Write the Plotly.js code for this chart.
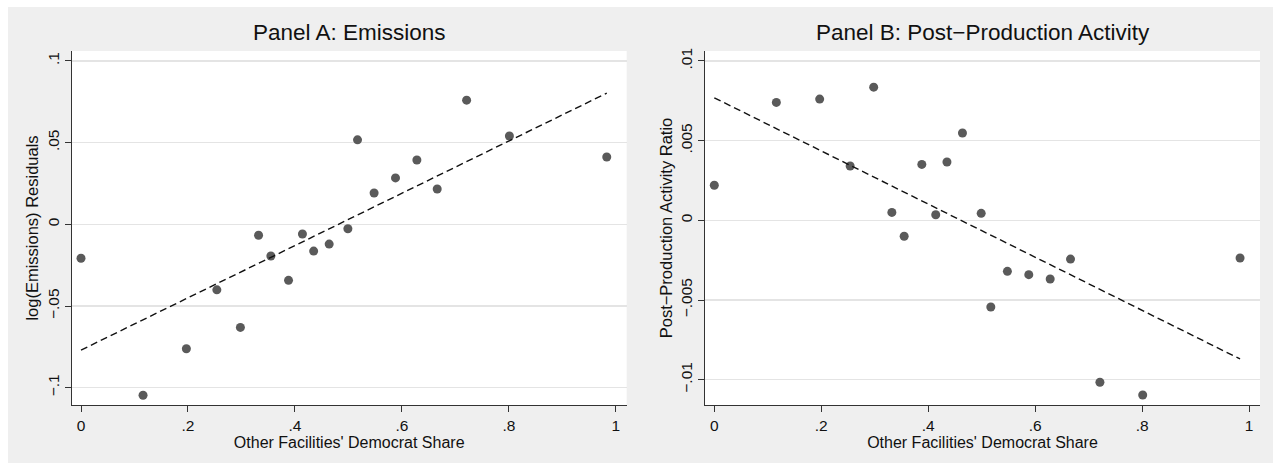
<!DOCTYPE html>
<html>
<head>
<meta charset="utf-8">
<script src="https://cdn.plot.ly/plotly-3.0.1.min.js"></script>
<style>
  html, body { margin: 0; padding: 0; background: #ffffff; }
  #chart { width: 1273px; height: 463px; }
</style>
</head>
<body>
<div id="chart"></div>
<script>
// ---- Data ----
const shareX = [0, 0.116, 0.197, 0.254, 0.298, 0.332, 0.355, 0.388, 0.414, 0.435,
                0.464, 0.499, 0.517, 0.548, 0.588, 0.628, 0.666, 0.721, 0.801, 0.983];
const emissionsResid = [-0.0208, -0.1046, -0.0762, -0.0401, -0.0631, -0.0067, -0.0194, -0.0343, -0.0059, -0.0164,
                        -0.0121, -0.0027, 0.0517, 0.0192, 0.0284, 0.0394, 0.0216, 0.0760, 0.0541, 0.0412];
const postProdRatio = [0.0022, 0.0074, 0.00761, 0.00341, 0.00836, 0.0005, -0.0010, 0.00351, 0.00035, 0.00366,
                       0.00548, 0.00044, -0.00544, -0.0032, -0.00341, -0.00368, -0.00243, -0.01016, -0.01096, -0.00236];
const fitX = [0, 0.983];
const emissionsFit = [-0.0770, 0.0803];
const postProdFit = [0.00769, -0.0087];

const xTickVals = [0, 0.2, 0.4, 0.6, 0.8, 1];
const xTickText = ["0", ".2", ".4", ".6", ".8", "1"];
const yTickValsA = [-0.1, -0.05, 0, 0.05, 0.1];
const yTickTextA = ["\u2212.1", "\u2212.05", "0", ".05", ".1"];
const yTickValsB = [-0.01, -0.005, 0, 0.005, 0.01];
const yTickTextB = ["\u2212.01", "\u2212.005", "0", ".005", ".01"];

const titleA = "Panel A: Emissions";
const titleB = "Panel B: Post\u2212Production Activity";
const xTitle = "Other Facilities' Democrat Share";
const yTitleA = "log(Emissions) Residuals";
const yTitleB = "Post\u2212Production Activity Ratio";

// ---- Styling ----
const W = 1273, H = 463;
const FONT = "Liberation Sans, Arial, Helvetica, sans-serif";
const markerStyle = {color: "#5a5a5a", size: 9};
const lineStyle = {color: "#111111", width: 1.4, dash: "7px,4px"};

const traces = [
  {x: shareX, y: emissionsResid, type: "scatter", mode: "markers", marker: markerStyle, xaxis: "x", yaxis: "y", hoverinfo: "x+y"},
  {x: fitX, y: emissionsFit, type: "scatter", mode: "lines", line: lineStyle, xaxis: "x", yaxis: "y"},
  {x: shareX, y: postProdRatio, type: "scatter", mode: "markers", marker: markerStyle, xaxis: "x2", yaxis: "y2", hoverinfo: "x+y"},
  {x: fitX, y: postProdFit, type: "scatter", mode: "lines", line: lineStyle, xaxis: "x2", yaxis: "y2"}
];

const yDom = [1 - 405 / H, 1 - 51 / H];
const xDomA = [71.7 / W, 626.7 / W];
const xDomB = [705 / W, 1260 / W];

function xAxis(domain, anchor) {
  return {
    domain: domain, anchor: anchor,
    range: [-0.0174, 1.0203],
    tickvals: xTickVals, ticktext: xTickText,
    showgrid: false, zeroline: false,
    showline: true, linecolor: "#333333", linewidth: 1,
    ticks: "outside", ticklen: 6, tickcolor: "#333333", tickwidth: 1,
    tickfont: {family: FONT, size: 15.5, color: "#111111"},
    title: {text: xTitle, font: {family: FONT, size: 16, color: "#111111"}, standoff: 1},
    fixedrange: true
  };
}
function yAxis(range, vals, text, title, anchor) {
  return {
    domain: yDom, anchor: anchor,
    range: range,
    tickvals: vals, ticktext: text, tickangle: -90,
    showgrid: true, gridcolor: "#e4e4e4", gridwidth: 1.5,
    zeroline: false,
    showline: true, linecolor: "#333333", linewidth: 1,
    ticks: "outside", ticklen: 6, tickcolor: "#333333", tickwidth: 1,
    tickfont: {family: FONT, size: 15.5, color: "#111111"},
    title: {text: title, font: {family: FONT, size: 16.5, color: "#111111"}, standoff: 1},
    fixedrange: true
  };
}

const layout = {
  width: W, height: H,
  margin: {l: 0, r: 0, t: 0, b: 0},
  paper_bgcolor: "#efefef",
  plot_bgcolor: "#ffffff",
  showlegend: false,
  font: {family: FONT, color: "#111111"},
  xaxis: xAxis(xDomA, "y"),
  yaxis: yAxis([-0.1106, 0.1061], yTickValsA, yTickTextA, yTitleA, "x"),
  xaxis2: xAxis(xDomB, "y2"),
  yaxis2: yAxis([-0.011587, 0.010627], yTickValsB, yTickTextB, yTitleB, "x2"),
  shapes: [
    {type: "rect", xref: "paper", yref: "paper", x0: 0, x1: 1, y0: 1 - 7 / H, y1: 1, fillcolor: "#ffffff", line: {width: 0}, layer: "below"},
    {type: "rect", xref: "paper", yref: "paper", x0: 0, x1: 8 / W, y0: 0, y1: 1, fillcolor: "#ffffff", line: {width: 0}, layer: "below"}
  ],
  annotations: [
    {text: titleA, xref: "paper", yref: "paper", x: (xDomA[0] + xDomA[1]) / 2, y: 1 - 33 / H,
     xanchor: "center", yanchor: "middle", showarrow: false, font: {family: FONT, size: 22.5, color: "#111111"}},
    {text: titleB, xref: "paper", yref: "paper", x: (xDomB[0] + xDomB[1]) / 2, y: 1 - 33 / H,
     xanchor: "center", yanchor: "middle", showarrow: false, font: {family: FONT, size: 22.5, color: "#111111"}}
  ]
};

Plotly.newPlot("chart", traces, layout, {displayModeBar: false, staticPlot: true});
</script>
</body>
</html>
